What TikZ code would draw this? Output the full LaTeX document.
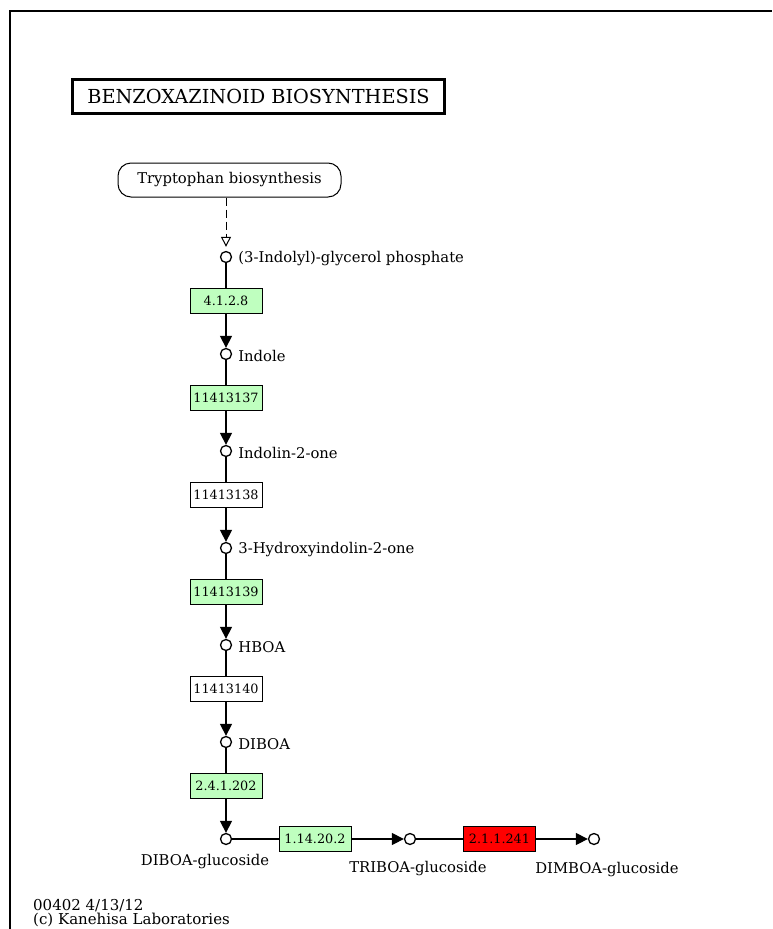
\documentclass[tikz,border=0pt]{standalone}
\usepackage{fontspec}
\setmainfont{DejaVu Serif}
\usetikzlibrary{arrows.meta,positioning}

\definecolor{enzgreen}{HTML}{BFFFBF}
\definecolor{enzred}{HTML}{FF0000}

\tikzset{
	cpd/.style={circle,draw=black,line width=1.3pt,fill=white,minimum size=11pt,inner sep=0pt},
	enz/.style={draw=black,line width=1pt,minimum width=72pt,minimum height=25pt,inner sep=0pt,font=\fontsize{12.8}{12.8}\selectfont},
	lbl/.style={font=\fontsize{14.8}{14.8}\selectfont,inner sep=0pt},
	rxn/.style={line width=1.3pt},
	fwd/.style={rxn,-{Triangle[length=12pt,width=12pt]}},
}

\begin{document}
\begin{tikzpicture}[x=1pt,y=-1pt]
	\useasboundingbox (0,0) rectangle (772,929);
	% frame
	\draw[line width=1.2pt] (10,929) -- (10,11) -- (772,11);

	\node[draw,line width=3pt,minimum width=372pt,minimum height=34pt,inner sep=0pt,font=\fontsize{19.3}{19.3}\selectfont] (title) at (258.5,96.5) {BENZOXAZINOID BIOSYNTHESIS};

	\node[lbl,draw,rounded corners=13pt,line width=1pt,minimum width=223pt,minimum height=34pt] (trp) at (229.5,180) {Tryptophan biosynthesis};

	\pgfmathsetmacro{\dy}{97}
	% compounds of the main column
	\foreach \lab [count=\i] in {{(3-Indolyl)-glycerol phosphate},Indole,Indolin-2-one,3-Hydroxyindolin-2-one,HBOA,DIBOA} {
		\pgfmathsetmacro{\y}{257+(\i-1)*\dy}
		\node[cpd] (c\i) at (226,\y) {};
		\node[lbl,right=6pt of c\i,yshift=-2pt] (l\i) {\lab};
		}
	\node[cpd] (c7) at (226,839) {};
	\node[cpd] (c8) at (410,839) {};
	\node[cpd] (c9) at (594,839) {};
	\node[lbl] (l7) at (205,862) {DIBOA-glucoside};
	\node[lbl] (l8) at (418,869) {TRIBOA-glucoside};
	\node[lbl] (l9) at (607,870) {DIMBOA-glucoside};

	% enzymes
	\foreach \ec/\col [count=\i] in {4.1.2.8/enzgreen,11413137/enzgreen,11413138/white,11413139/enzgreen,11413140/white,2.4.1.202/enzgreen} {
		\pgfmathsetmacro{\y}{301+(\i-1)*\dy}
		\node[enz,fill=\col] (e\i) at (226,\y) {\ec};
		}
	\node[enz,fill=enzgreen] (e7) at (315,839) {1.14.20.2};
	\node[enz,fill=enzred] (e8) at (499.5,839) {2.1.1.241};

	% reactions
	\draw[line width=1pt,dash pattern=on 8pt off 4pt,-{Triangle[open,length=10pt,width=10pt]},shorten >=4pt] (trp.south -| c1) -- (c1);
	\foreach \i in {1,...,6} {
		\pgfmathtruncatemacro{\j}{\i+1}
		\draw[rxn] (c\i) -- (e\i);
		\draw[fwd] (e\i) -- (c\j);
		}
	\draw[rxn] (c7) -- (e7);
	\draw[fwd] (e7) -- (c8);
	\draw[rxn] (c8) -- (e8);
	\draw[fwd] (e8) -- (c9);

	\node[lbl,align=left,anchor=north west,font=\fontsize{15}{14}\selectfont] (foot) at (33,899) {00402 4/13/12\\(c) Kanehisa Laboratories};
\end{tikzpicture}
\end{document}
